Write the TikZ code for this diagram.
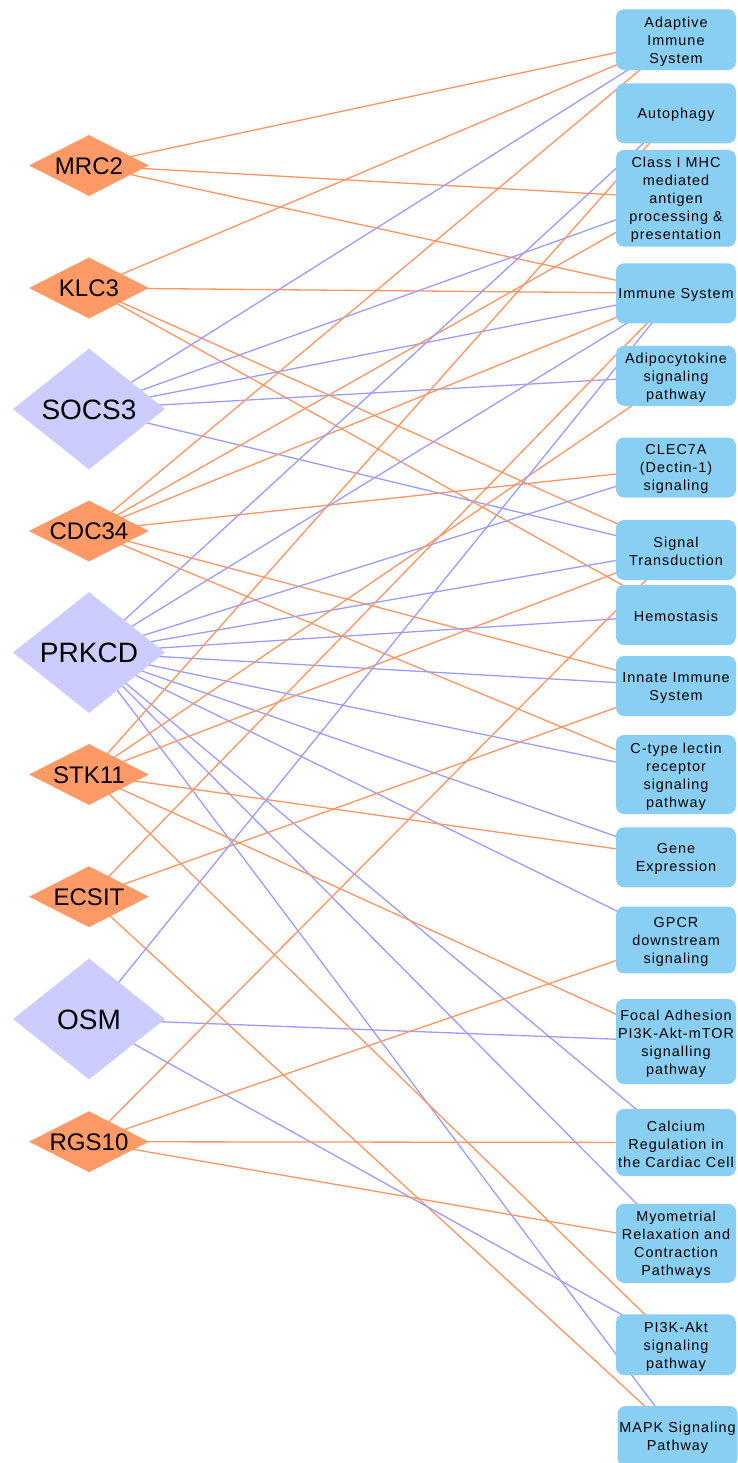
\documentclass[tikz,border=0pt]{standalone}
\usepackage{fontspec}
\setmainfont{Liberation Sans}
\newfontfamily\pathfont[LetterSpace=7]{Liberation Sans}
\usetikzlibrary{shapes.geometric,backgrounds}

\definecolor{geneorange}{HTML}{FF9966}
\definecolor{genelav}{HTML}{CCCCFF}
\definecolor{pathblue}{HTML}{88CFF3}
\definecolor{edgeorange}{HTML}{FF9460}
\definecolor{edgelav}{HTML}{9C9CFF}

% pathway box with its label set slightly below the box centre
\newcommand{\pathway}[5][676]{%
  \node[pbox, minimum height=#4] (#2) at (#1,#3) {};
  \node[ptext] (#2-text) at ([yshift=-1.8pt]#2.center) {#5};
}

\begin{document}
\begin{tikzpicture}[x=1pt,y=-1pt,
  gsmall/.style={diamond, fill=geneorange, minimum width=120pt, minimum height=61pt,
    inner sep=0pt, aspect=2, font=\fontsize{24}{24}\selectfont,
    text height=17.2pt, text depth=0pt},
  gbig/.style={diamond, fill=genelav, minimum width=152pt, minimum height=121pt,
    inner sep=0pt, aspect=1.26, font=\fontsize{28}{28}\selectfont,
    text height=20pt, text depth=0pt},
  pbox/.style={rectangle, rounded corners=8pt, fill=pathblue, minimum width=120pt,
    inner sep=0pt},
  ptext/.style={inner sep=0pt, align=center,
    font=\pathfont\fontsize{14.4}{18}\selectfont},
  eo/.style={draw=edgeorange, line width=1.3pt},
  el/.style={draw=edgelav, line width=1.3pt}
]
\useasboundingbox (0,0) rectangle (737,1463);

% genes
\node[gsmall] (mrc2)  at (89,165.5)  {MRC2};
\node[gsmall] (klc3)  at (89,288)    {KLC3};
\node[gbig]   (socs3) at (89,409)    {SOCS3};
\node[gsmall] (cdc34) at (89,531)    {CDC34};
\node[gbig]   (prkcd) at (89,652.5)  {PRKCD};
\node[gsmall] (stk11) at (89,774.5)  {STK11};
\node[gsmall] (ecsit) at (89,896.7)  {ECSIT};
\node[gbig]   (osm)   at (89,1019)   {OSM};
\node[gsmall] (rgs10) at (89,1141.7) {RGS10};

% pathways
\pathway{adapt}{39.7}{60.7pt}{Adaptive\\Immune\\System}
\pathway{autoph}{113.3}{60pt}{Autophagy}
\pathway{mhc}{198.3}{96.7pt}{Class I MHC\\mediated\\antigen\\processing \&\\presentation}
\pathway{immune}{293.3}{60pt}{Immune System}
\pathway{adipo}{375.8}{60pt}{Adipocytokine\\signaling\\pathway}
\pathway{clec}{467.5}{60pt}{CLEC7A\\(Dectin-1)\\signaling}
\pathway{signal}{550}{60pt}{Signal\\Transduction}
\pathway{hemo}{615}{60pt}{Hemostasis}
\pathway{innate}{686}{60pt}{Innate Immune\\System}
\pathway{ctype}{774.5}{79pt}{C-type lectin\\receptor\\signaling\\pathway}
\pathway{gene}{857.3}{60pt}{Gene\\Expression}
\pathway{gpcr}{940}{66.7pt}{GPCR\\downstream\\signaling}
\pathway{focal}{1041.5}{85pt}{Focal Adhesion\\PI3K-Akt-mTOR\\signalling\\pathway}
\pathway{calcium}{1142.5}{67pt}{Calcium\\Regulation in\\the Cardiac Cell}
\pathway{myo}{1243.3}{79pt}{Myometrial\\Relaxation and\\Contraction\\Pathways}
\pathway{pi3k}{1344.7}{60.7pt}{PI3K-Akt\\signaling\\pathway}
\pathway[677.5]{mapk}{1436}{60pt}{MAPK Signaling\\Pathway}

% gene-pathway links, behind the nodes
\begin{pgfonlayer}{background}
  \foreach \t in {adapt,mhc,immune}
    \draw[eo] (mrc2.center) -- (\t.center);
  \foreach \t in {adapt,immune,signal,hemo}
    \draw[eo] (klc3.center) -- (\t.center);
  \foreach \t in {adapt,mhc,immune,adipo,signal}
    \draw[el] (socs3.center) -- (\t.center);
  \foreach \t in {adapt,mhc,immune,clec,ctype,innate}
    \draw[eo] (cdc34.center) -- (\t.center);
  \foreach \t in {autoph,immune,clec,signal,hemo,innate,ctype,gene,gpcr,calcium,myo,mapk}
    \draw[el] (prkcd.center) -- (\t.center);
  \foreach \t in {autoph,adipo,signal,gene,focal,pi3k}
    \draw[eo] (stk11.center) -- (\t.center);
  \foreach \t in {immune,innate,mapk}
    \draw[eo] (ecsit.center) -- (\t.center);
  \foreach \t in {immune,focal,pi3k}
    \draw[el] (osm.center) -- (\t.center);
  \foreach \t in {signal,gpcr,calcium,myo}
    \draw[eo] (rgs10.center) -- (\t.center);
\end{pgfonlayer}
\end{tikzpicture}
\end{document}
